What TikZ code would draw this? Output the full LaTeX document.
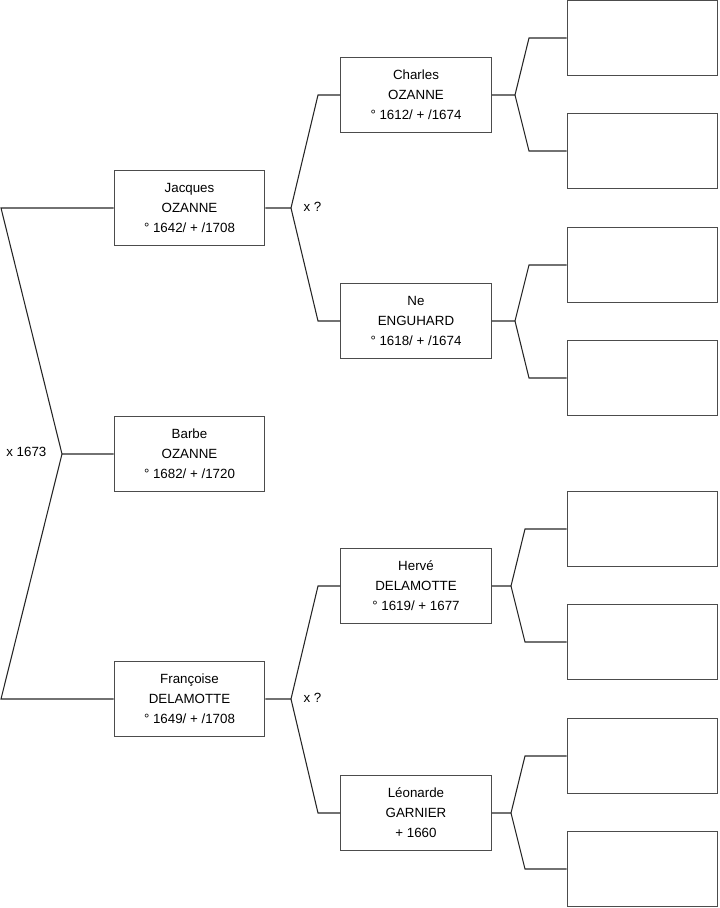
\documentclass[tikz,border=0pt]{standalone}
\usepackage{fontspec}
\setmainfont{Liberation Sans}
\begin{document}
\begin{tikzpicture}[x=0.75pt, y=-0.75pt,
    person/.style={draw=black!70, line width=0.9pt, fill=white,
      minimum width=113pt, minimum height=56.5pt, align=center,
      font=\fontsize{10}{15}\selectfont, inner sep=0pt},
    link/.style={draw=black!85, line width=0.8pt},
    tag/.style={font=\fontsize{10}{12}\selectfont, inner sep=1pt}]
    \useasboundingbox (0,0) rectangle (719,908);

    % people
    \node[person] (jacques)   at (189.5,208) {Jacques\\OZANNE\\° 1642/ + /1708};
    \node[person] (barbe)     at (189.5,454) {Barbe\\OZANNE\\° 1682/ + /1720};
    \node[person] (francoise) at (189.5,699) {Françoise\\DELAMOTTE\\° 1649/ + /1708};
    \node[person] (charles)   at (416,95)  {Charles\\OZANNE\\° 1612/ + /1674};
    \node[person] (ne)        at (416,321) {Ne\\ENGUHARD\\° 1618/ + /1674};
    \node[person] (herve)     at (416,586) {Hervé\\DELAMOTTE\\° 1619/ + 1677};
    \node[person] (leonarde)  at (416,813) {Léonarde\\GARNIER\\+ 1660};

    % empty boxes
    \foreach \i/\y in {1/38, 2/151, 3/265, 4/378, 5/529, 6/642, 7/756, 8/869}{
      \node[person] (e\i) at (642.5,\y) {};
    }

    % forks
    \coordinate (f0) at (62,0 |- barbe.west);
    \draw[link] (barbe.west) -- (f0) -- (1,0 |- jacques.west) -- (jacques.west);
    \draw[link] (f0) -- (1,0 |- francoise.west) -- (francoise.west);
    \node[tag, left] at (48,452) {x 1673};

    \foreach \p/\a/\b in {jacques/charles/ne, francoise/herve/leonarde}{
      \coordinate (k) at (291,0 |- \p.east);
      \draw[link] (\p.east) -- (k) -- (318,0 |- \a.west) -- (\a.west);
      \draw[link] (k) -- (318,0 |- \b.west) -- (\b.west);
      \node[tag, right] at ([yshift=1pt]302,0 |- \p.east) {x ?};
    }

    \foreach \p/\a/\b/\fx/\tx in {charles/e1/e2/515/529, ne/e3/e4/515/529,
        herve/e5/e6/511/525, leonarde/e7/e8/511/525}{
      \coordinate (k) at (\fx,0 |- \p.east);
      \draw[link] (\p.east) -- (k) -- (\tx,0 |- \a.west) -- (\a.west);
      \draw[link] (k) -- (\tx,0 |- \b.west) -- (\b.west);
    }
\end{tikzpicture}
\end{document}
